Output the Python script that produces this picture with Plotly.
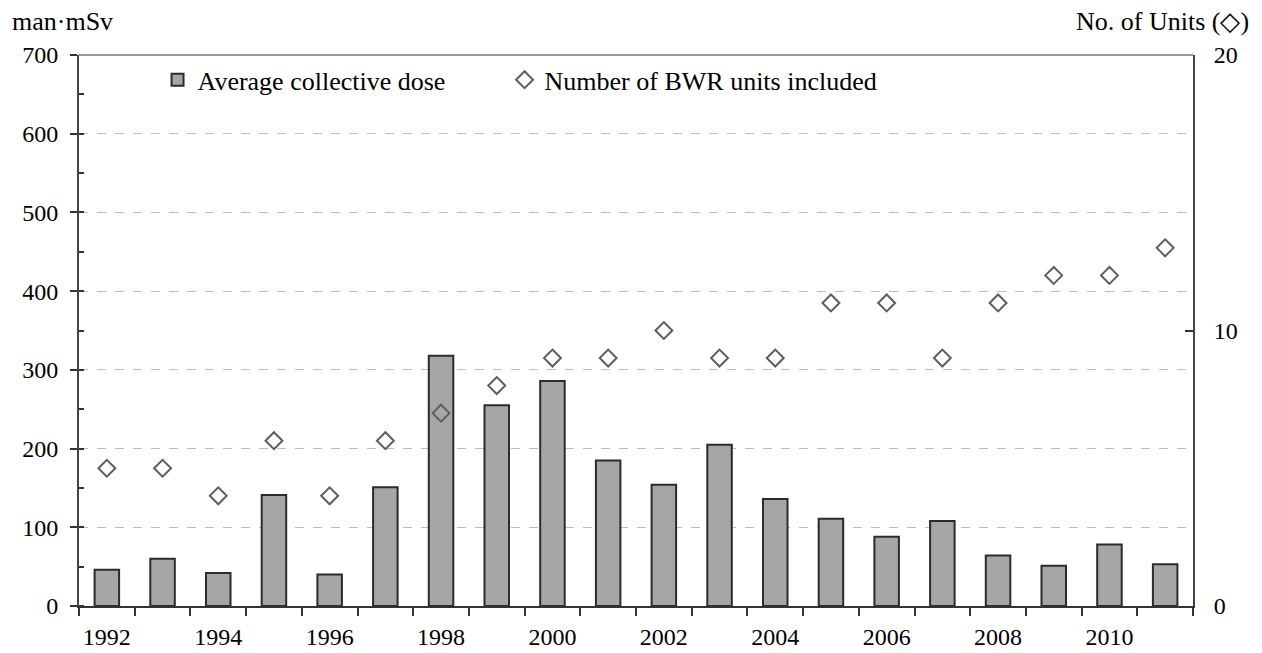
import plotly.graph_objects as go

years = list(range(1992, 2012))
avg_dose = [46, 60, 42, 141, 40, 151, 318, 255, 286, 185, 154, 205, 136, 111, 88, 108, 64, 51, 78, 53]
bwr_units = [5, 5, 4, 6, 4, 6, 7, 8, 9, 9, 10, 9, 9, 11, 11, 9, 11, 12, 12, 13]
tick_years = [y for y in years if y % 2 == 0]

FONT = "Liberation Serif"
TICK_FS = 24
TEXT_FS = 26

fig = go.Figure()
fig.add_trace(go.Bar(
    x=years, y=avg_dose, name="Average collective dose",
    width=0.44,
    marker=dict(color="#a6a6a6", line=dict(color="#2b2b2b", width=2)),
    yaxis="y", legend="legend",
))
fig.add_trace(go.Scatter(
    x=years, y=bwr_units, name="Number of BWR units included",
    mode="markers",
    marker=dict(symbol="diamond-open", size=13, color="#5e5e5e", line=dict(width=2)),
    yaxis="y2", legend="legend2",
))

legend_style = dict(
    orientation="h", y=0.955, xanchor="left", yanchor="middle",
    font=dict(family=FONT, size=TEXT_FS, color="black"),
    bgcolor="rgba(0,0,0,0)", itemwidth=30,
)

fig.update_layout(
    width=1262, height=653,
    margin=dict(l=79, r=69, t=55, b=47, autoexpand=False),
    paper_bgcolor="white", plot_bgcolor="white",
    font=dict(family=FONT, size=TICK_FS, color="black"),
    showlegend=True,
    legend=dict(x=0.0705, **legend_style),
    legend2=dict(x=0.382, **legend_style),
    xaxis=dict(
        range=[years[0] - 0.5, years[-1] + 0.5], automargin=False,
        tickmode="array", tickvals=tick_years, ticktext=[str(y) for y in tick_years],
        showline=True, linecolor="#333333", linewidth=2,
        ticks="", showgrid=False, zeroline=False,
        minor=dict(ticks="outside", ticklen=8, tickwidth=2, tickcolor="#333333",
                   showgrid=False, tick0=years[0] - 0.5, dtick=1),
        tickfont=dict(family=FONT, size=TICK_FS, color="black"),
        ticklabelstandoff=8,
    ),
    yaxis=dict(
        range=[0, 700], tickvals=list(range(0, 701, 100)), automargin=False,
        showline=True, linecolor="#444444", linewidth=2,
        ticks="outside", ticklen=7, tickwidth=2, tickcolor="#333333",
        showgrid=True, gridcolor="#bdbdbd", griddash="dash", gridwidth=1,
        zeroline=False,
        minor=dict(ticks="inside", ticklen=5, tickwidth=1.5, tickcolor="#333333",
                   dtick=50, showgrid=False),
        tickfont=dict(family=FONT, size=TICK_FS, color="black"),
        ticklabelstandoff=7,
    ),
    yaxis2=dict(
        overlaying="y", side="right", range=[0, 20], tickvals=[0, 10, 20],
        automargin=False,
        showline=True, linecolor="#444444", linewidth=2,
        ticks="inside", ticklen=8, tickwidth=2, tickcolor="#333333",
        showgrid=False, zeroline=False,
        tickfont=dict(family=FONT, size=TICK_FS, color="black"),
        ticklabelstandoff=14,
    ),
)

# solid frame line along the top of the plotting area
fig.add_shape(type="line", xref="paper", yref="paper", x0=0, x1=1, y0=1, y1=1,
              line=dict(color="#9a9a9a", width=2))

fig.add_annotation(text="man·mSv", xref="paper", yref="paper",
                   x=-69 / 1114, y=1, xanchor="left", yanchor="bottom",
                   yshift=17, showarrow=False,
                   font=dict(family=FONT, size=TEXT_FS, color="black"))
fig.add_annotation(text="No. of Units (◇)", xref="paper", yref="paper",
                   x=1 + 58 / 1114, y=1, xanchor="right", yanchor="bottom",
                   yshift=17, showarrow=False,
                   font=dict(family=FONT, size=TEXT_FS, color="black"))

fig.write_html("out.html")
